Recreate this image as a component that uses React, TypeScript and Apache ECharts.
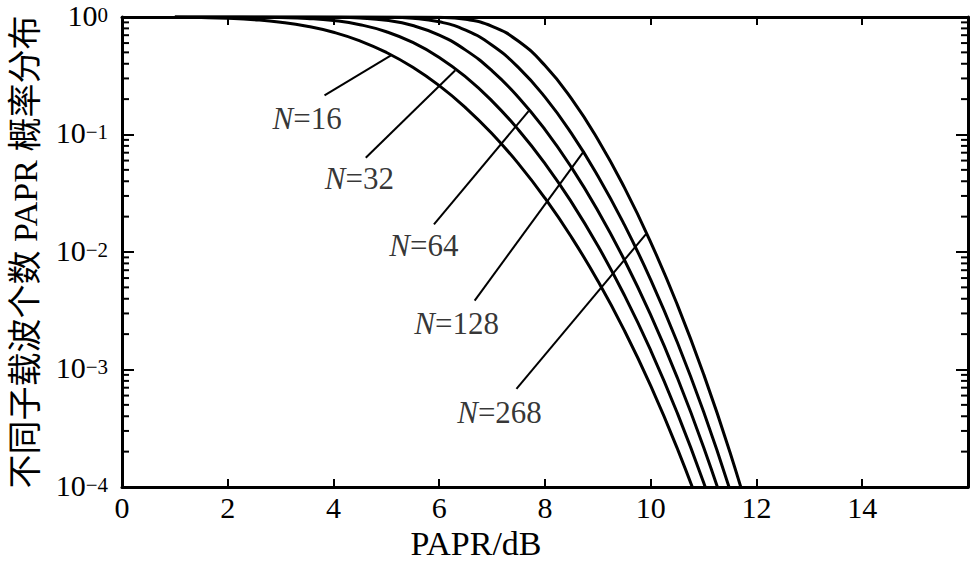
import React, { useEffect, useRef } from "react";
import * as echarts from "echarts";

// PAPR threshold (dB) at which each curve is sampled
const PAPR_DB = [1, 1.5, 2, 2.5, 3, 3.5, 4, 4.5, 5, 5.5, 6, 6.5, 7, 7.5, 8, 8.5, 9, 9.5, 10, 10.5, 11, 11.5, 12];

// CCDF of PAPR for each sub-carrier count
const CCDF_N16 = [0.9952, 0.9885, 0.9745, 0.9482, 0.9035, 0.8353, 0.7416, 0.6265, 0.4994, 0.3732, 0.2603, 0.1687, 0.1014, 0.05626, 0.02871, 0.01339, 0.005665, 0.002153, 0.000726, 0.000214, 0.0000545, 0.0000117, 0.0000021];
const CCDF_N32 = [0.99998, 0.99987, 0.99935, 0.99732, 0.9907, 0.9729, 0.9333, 0.8605, 0.7494, 0.6072, 0.4528, 0.309, 0.1925, 0.1093, 0.05659, 0.0266, 0.011299, 0.004301, 0.001452, 0.0004287, 0.00010905, 0.00002347, 0.0000042];
const CCDF_N64 = [1, 1, 1, 0.99999, 0.99991, 0.99926, 0.99554, 0.9805, 0.9372, 0.8457, 0.7005, 0.5225, 0.3479, 0.2067, 0.11, 0.05249, 0.02247, 0.008584, 0.002901, 0.0008573, 0.0002181, 0.00004694, 0.0000084];
const CCDF_N128 = [1, 1, 1, 1, 1, 1, 0.99998, 0.99962, 0.99606, 0.9762, 0.9103, 0.772, 0.5747, 0.3707, 0.2079, 0.1022, 0.04444, 0.01709, 0.005794, 0.001714, 0.0004361, 0.00009389, 0.0000168];
const CCDF_N268 = [1, 1, 1, 1, 1, 1, 1, 1, 0.99999, 0.9996, 0.99359, 0.9547, 0.8331, 0.6208, 0.3861, 0.2021, 0.09078, 0.03546, 0.012093, 0.003585, 0.0009129, 0.0001966, 0.0000351];

const CURVES = [CCDF_N16, CCDF_N32, CCDF_N64, CCDF_N128, CCDF_N268];
const CURVE_LABELS = ["16", "32", "64", "128", "268"];

// annotation leader lines: [start(dB, prob), end(dB, prob)]
const LEADER_START = [[3.83, 0.2155], [4.61, 0.0633], [5.9, 0.0172], [6.67, 0.00386], [7.46, 0.000684]];
const LEADER_END = [[5.08, 0.47], [6.3, 0.35], [7.69, 0.158], [8.74, 0.0726], [9.91, 0.0142]];
// annotation text anchors (dB, prob)
const LABEL_POS = [[3.5, 0.138], [4.49, 0.0421], [5.71, 0.01146], [6.33, 0.00247], [7.14, 0.00043]];

const X_TICKS = [0, 2, 4, 6, 8, 10, 12, 14];
const Y_TICK_EXP = ["−4", "−3", "−2", "−1", "0"];

const SERIF = "Liberation Serif";
const NAME_FONT = "Liberation Serif, Noto Sans CJK SC, serif";

export default function App() {
  const ref = useRef<HTMLDivElement>(null);
  useEffect(() => {
    if (!ref.current) return;
    const chart = echarts.init(ref.current, undefined, { renderer: "svg" });

    const minor: number[] = [];
    for (let k = -4; k < 0; k++) {
      for (let m = 2; m <= 9; m++) minor.push(m * Math.pow(10, k));
    }

    const axisLine = { show: true, onZero: false, lineStyle: { color: "#000", width: 3 } };
    const tickStyle = { color: "#000", width: 2 };

    const curveSeries = CURVES.map((vals, i) => ({
      type: "line",
      name: "N=" + CURVE_LABELS[i],
      data: PAPR_DB.map((x, j) => [x, vals[j]]),
      showSymbol: false,
      symbol: "none",
      smooth: 0.5,
      clip: true,
      lineStyle: { color: "#000", width: 3 },
      z: 3,
    }));

    const leaderSeries = LEADER_START.map((s, i) => ({
      type: "line",
      data: [s, LEADER_END[i]],
      symbol: "none",
      showSymbol: false,
      lineStyle: { color: "#000", width: 2 },
      z: 2,
    }));

    const option: any = {
      animation: false,
      textStyle: { fontFamily: SERIF },
      grid: { left: 118, right: 2, top: 13, bottom: 74, containLabel: false },
      xAxis: [
        {
          type: "value",
          min: 0,
          max: 16,
          interval: 2,
          position: "bottom",
          axisLine,
          axisTick: { show: true, inside: true, length: 8, lineStyle: tickStyle },
          axisLabel: {
            show: true,
            color: "#000",
            fontFamily: SERIF,
            fontSize: 30,
            margin: 5,
            formatter: (v: number) => (X_TICKS.indexOf(v) >= 0 ? String(v) : ""),
          },
          splitLine: { show: false },
        },
        {
          type: "value",
          min: 0,
          max: 16,
          interval: 2,
          position: "top",
          axisLine,
          axisTick: { show: true, inside: true, length: 8, lineStyle: tickStyle },
          axisLabel: { show: false },
          splitLine: { show: false },
        },
      ],
      yAxis: [
        {
          type: "log",
          logBase: 10,
          min: 1e-4,
          max: 1,
          position: "left",
          axisLine,
          axisTick: { show: true, inside: true, length: 12, lineStyle: tickStyle },
          axisLabel: {
            show: true,
            margin: 14,
            fontFamily: SERIF,
            formatter: (v: number) => {
              const idx = Math.round(Math.log10(v)) + 4;
              return "{b|10}{s|" + Y_TICK_EXP[idx] + "}";
            },
            rich: {
              b: { fontFamily: SERIF, fontSize: 30, color: "#000", lineHeight: 26, verticalAlign: "bottom" },
              s: { fontFamily: SERIF, fontSize: 21, color: "#000", lineHeight: 18, verticalAlign: "top" },
            },
          },
          splitLine: { show: false },
          name: "不同子载波个数 PAPR 概率分布",
          nameLocation: "middle",
          nameGap: 80,
          nameTextStyle: { fontFamily: NAME_FONT, fontSize: 34, color: "#000" },
        },
        {
          type: "log",
          logBase: 10,
          min: 1e-4,
          max: 1,
          position: "right",
          axisLine,
          axisTick: { show: true, inside: true, length: 12, lineStyle: tickStyle },
          axisLabel: { show: false },
          splitLine: { show: false },
        },
      ],
      graphic: [
        {
          type: "text",
          x: 476,
          y: 543,
          style: {
            text: "PAPR/dB",
            fontFamily: SERIF,
            fontSize: 34,
            lineHeight: 34,
            fill: "#000",
            align: "center",
            verticalAlign: "middle",
          },
        },
      ],
      series: [
        ...curveSeries,
        ...leaderSeries,
        {
          type: "scatter",
          data: LABEL_POS,
          symbolSize: 1,
          itemStyle: { color: "rgba(0,0,0,0)" },
          label: {
            show: true,
            position: "inside",
            fontFamily: SERIF,
            formatter: (p: any) => "{i|N}{r|=" + CURVE_LABELS[p.dataIndex] + "}",
            rich: {
              i: { fontFamily: SERIF, fontSize: 31, fontStyle: "italic", color: "#000" },
              r: { fontFamily: SERIF, fontSize: 31, color: "#000" },
            },
          },
          z: 4,
        },
        {
          type: "custom",
          silent: true,
          clip: false,
          data: minor.flatMap((v) => [[0, v, 1], [16, v, -1]]),
          renderItem: (_params: any, api: any) => {
            const pt = api.coord([api.value(0), api.value(1)]);
            const dir = api.value(2);
            return {
              type: "line",
              shape: { x1: pt[0], y1: pt[1], x2: pt[0] + dir * 7, y2: pt[1] },
              style: { stroke: "#000", lineWidth: 2 },
            };
          },
          z: 5,
        },
      ],
    };
    chart.setOption(option);
    return () => chart.dispose();
  }, []);
  return (
    <div
      ref={ref}
      style={{ position: "fixed", left: 0, top: 0, width: 971, height: 561, background: "#fff" }}
    />
  );
}
